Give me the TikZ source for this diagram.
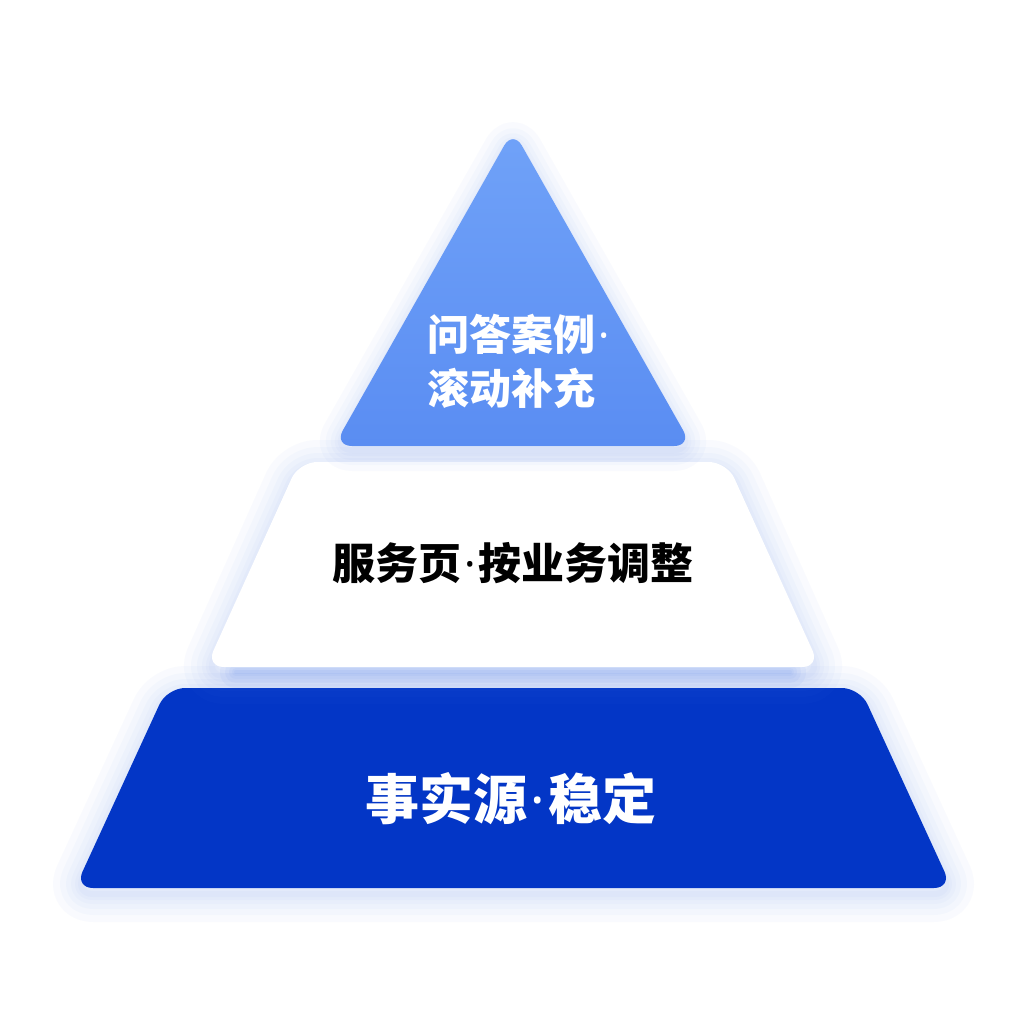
\documentclass[tikz,border=0pt]{standalone}
\usepackage{fontspec}
\newfontfamily\cjk{Noto Sans CJK SC}
\newfontfamily\dotfont{Noto Sans}
\newcommand\tagdot{{\dotfont\bfseries\kern0.06em·\kern0.06em}}
\usetikzlibrary{positioning}
\definecolor{tiptop}{HTML}{70A2F8}
\definecolor{tipbot}{HTML}{5A8DF2}
\definecolor{basefill}{HTML}{0336C6}
\definecolor{halo}{HTML}{4F7FEF}
\tikzset{
  layer/.style={rounded corners=18pt, line join=round},
  glow/.style={draw=halo, line width=#1, draw opacity=0.03, fill=none, rounded corners=18pt, line join=round, line cap=round},
  tag/.style={font=\cjk\bfseries, inner sep=0pt, align=left}
}
\begin{document}
\begin{tikzpicture}[x=1pt, y=-1pt]
\useasboundingbox (0,0) rectangle (1024,1024);
\fill[white] (0,0) rectangle (1024,1024);

\foreach \w in {6,12,20,30,42,56}
  \draw[glow=\w pt] (75,894) -- (167,694) -- (860,694) -- (952,894) -- cycle;
\fill[basefill, layer] (75,888) -- (167,688) -- (860,688) -- (952,888) -- cycle;

\foreach \w in {6,12,20,30,42,56}
  \draw[glow=\w pt] (206,676) -- (299,468) -- (727,468) -- (820,676) -- cycle;
\foreach \w in {4,8,14,22,32}
  \draw[glow=\w pt, draw opacity=0.06] (236,672) -- (790,672);
\fill[white, layer] (206,667) -- (299,462) -- (727,462) -- (820,667) -- cycle;

\foreach \w in {6,12,20,30,42}
  \draw[glow=\w pt] (334,450) -- (513,134) -- (692,450) -- cycle;
\shade[top color=tiptop, bottom color=tipbot, layer] (334,446) -- (513,130) -- (692,446) -- cycle;

\node (tip) [tag, text=white, font=\cjk\bfseries\fontsize{42}{54}\selectfont] at (520,361) {问答案例\tagdot\\滚动补充};
\node (mid) [tag, text=black, font=\cjk\bfseries\fontsize{43}{50}\selectfont] at (513,563) {服务页\tagdot 按业务调整};
\node (base) [tag, text=white, font=\cjk\bfseries\fontsize{54}{60}\selectfont] at (511,799) {事实源\tagdot 稳定};
\end{tikzpicture}
\end{document}
